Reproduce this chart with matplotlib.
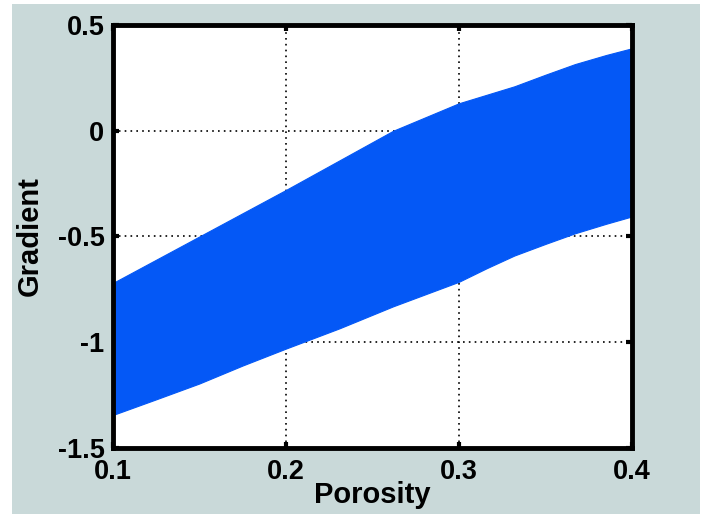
import numpy as np
import matplotlib.pyplot as plt
from matplotlib.patches import Rectangle

# --- edges of the gradient band ---
porosity = [0.100, 0.125, 0.150, 0.175, 0.200, 0.231, 0.262, 0.300,
            0.316, 0.332, 0.350, 0.367, 0.385, 0.400]
grad_upper = [-0.72, -0.61, -0.50, -0.39, -0.28, -0.14, 0.00, 0.13,
              0.17, 0.21, 0.265, 0.315, 0.358, 0.39]
grad_lower = [-1.344, -1.27, -1.195, -1.11, -1.03, -0.934, -0.83, -0.714,
              -0.65, -0.59, -0.535, -0.485, -0.44, -0.405]

x_ticks = [0.1, 0.2, 0.3, 0.4]
y_ticks = [-1.5, -1, -0.5, 0, 0.5]
y_tick_labels = ["-1.5", "-1", "-0.5", "0", "0.5"]

BG = "#C9D9D9"
BAND = "#0458F6"

plt.rcParams["font.family"] = ["Liberation Sans", "DejaVu Sans"]
plt.rcParams["font.weight"] = "bold"

fig = plt.figure(figsize=(7.05, 5.14), dpi=100, facecolor="white")
fig.patches.append(Rectangle((12 / 705, 0), 688 / 705, 510 / 514,
                             transform=fig.transFigure, facecolor=BG,
                             edgecolor="none", zorder=-10))

ax = fig.add_axes([0.160, 0.1284, 0.7365, 0.823])
ax.set_facecolor("white")

ax.fill_between(porosity, grad_lower, grad_upper, color=BAND, linewidth=0.8,
                edgecolor=BAND, zorder=2)

ax.set_xlim(0.1, 0.4)
ax.set_ylim(-1.5, 0.5)
ax.set_xticks(x_ticks)
ax.set_xticklabels([f"{t:.1f}" for t in x_ticks])
ax.set_yticks(y_ticks)
ax.set_yticklabels(y_tick_labels)

ax.grid(True, color="black", linestyle=(0, (1, 2.5)), linewidth=1.2, zorder=1)
ax.set_axisbelow(True)

ax.tick_params(direction="in", length=4, width=3, labelsize=19.5,
               top=True, right=True)
ax.tick_params(axis="x", pad=8)
ax.tick_params(axis="y", pad=6)
for lab in ax.get_xticklabels() + ax.get_yticklabels():
    lab.set_fontweight("bold")
for spine in ax.spines.values():
    spine.set_linewidth(3.5)
    spine.set_zorder(5)

ax.set_xlabel("Porosity", fontsize=21, fontweight="bold", labelpad=-3)
ax.set_ylabel("Gradient", fontsize=21, fontweight="bold", labelpad=10)

fig.savefig("out.png", dpi=100, facecolor=fig.get_facecolor())
